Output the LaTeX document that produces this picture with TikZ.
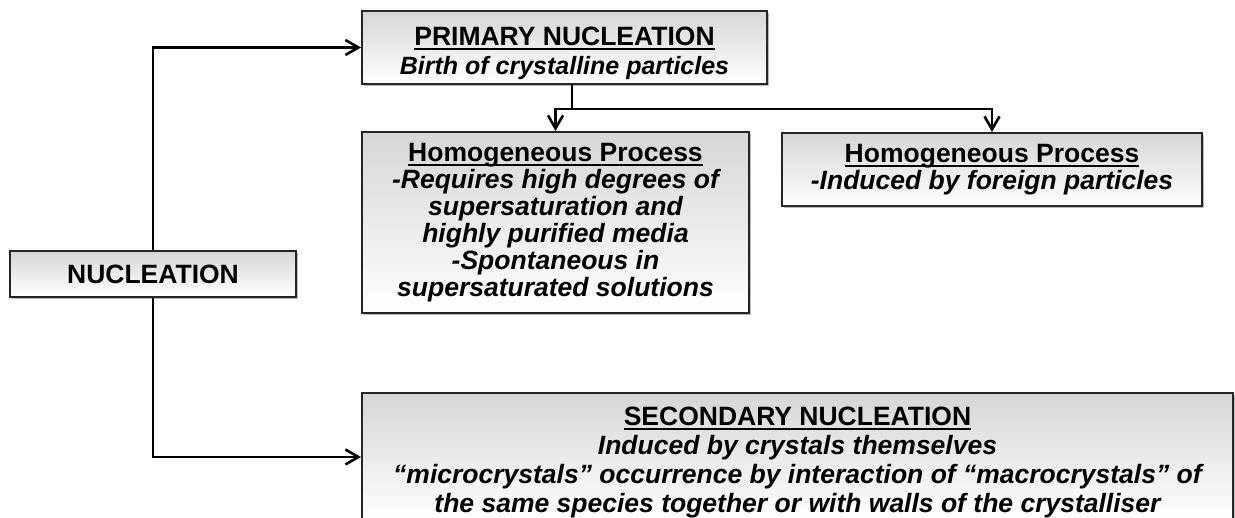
\documentclass[tikz,border=0pt]{standalone}
\usepackage{fontspec}
\setmainfont{Liberation Sans}
\usetikzlibrary{arrows.meta,shadows}

% soulignement a hauteur fixe
\newcommand\souligne[1]{\setbox0\hbox{#1}\rlap{\rule[-4.5pt]{\wd0}{2pt}}\box0}

\tikzset{
  boite/.style={draw=black!85, line width=2pt, top color=black!16, bottom color=white,
    drop shadow={shadow xshift=2pt, shadow yshift=-2pt, fill=black!45, opacity=.6},
    align=center, font=\fontsize{26.5}{27}\selectfont\bfseries, inner sep=0pt},
  texte/.style={align=center, font=\fontsize{26.5}{29.5}\selectfont\bfseries, inner sep=0pt},
  fleche/.style={line width=2.6pt, -{Straight Barb[length=13pt,width=15pt,line width=2.6pt]}},
  trait/.style={line width=2.6pt}
}

\begin{document}
\begin{tikzpicture}[x=1pt,y=-1pt]
    \useasboundingbox (0,0) rectangle (1235,518); % Cadre de la page
    \clip (0,0) rectangle (1235,518);

    % Boites
    \node[boite, minimum width=286pt, minimum height=46pt] (nuc) at (153,274) {NUCLEATION};
    \node[boite, minimum width=405pt, minimum height=73pt] (prim) at (564.5,47.5) {};
    \node[texte] (primtxt) at ([yshift=-6pt]prim.center)
      {\souligne{PRIMARY NUCLEATION}\\ \fontsize{25}{27}\selectfont\itshape Birth of crystalline particles};
    \node[boite, minimum width=387pt, minimum height=181pt] (homL) at (555.5,222.5)
      {\souligne{Homogeneous Process}\\ \itshape -Requires high degrees of\\ \itshape supersaturation and\\
       \itshape highly purified media\\ \itshape -Spontaneous in\\ \itshape supersaturated solutions};
    \node[boite, minimum width=420pt, minimum height=73pt] (homR) at (992,169.5)
      {\souligne{Homogeneous Process}\\ \itshape -Induced by foreign particles};
    \node[boite, minimum width=871pt, minimum height=128pt] (sec) at (797.5,457) {}; % Boite coupee en bas
    \node[texte, font=\fontsize{26.5}{29}\selectfont\bfseries, anchor=north] (sectxt) at ([yshift=-15pt]sec.north)
      {\souligne{SECONDARY NUCLEATION}\\ \itshape Induced by crystals themselves\\
       \itshape “microcrystals” occurrence by interaction of “macrocrystals” of\\
       \itshape the same species together or with walls of the crystalliser};

    % Liaisons
    \draw[fleche] (nuc.north) |- (prim.west); % Vers le haut
    \draw[fleche] (nuc.south) |- (sec.west); % Vers le bas
    \draw[trait] ([xshift=7.5pt]prim.south) -- ++(0,24) coordinate (fourche);
    \draw[fleche] (fourche) -| (homL.north);
    \draw[fleche] (fourche) -| (homR.north);
\end{tikzpicture}
\end{document}
